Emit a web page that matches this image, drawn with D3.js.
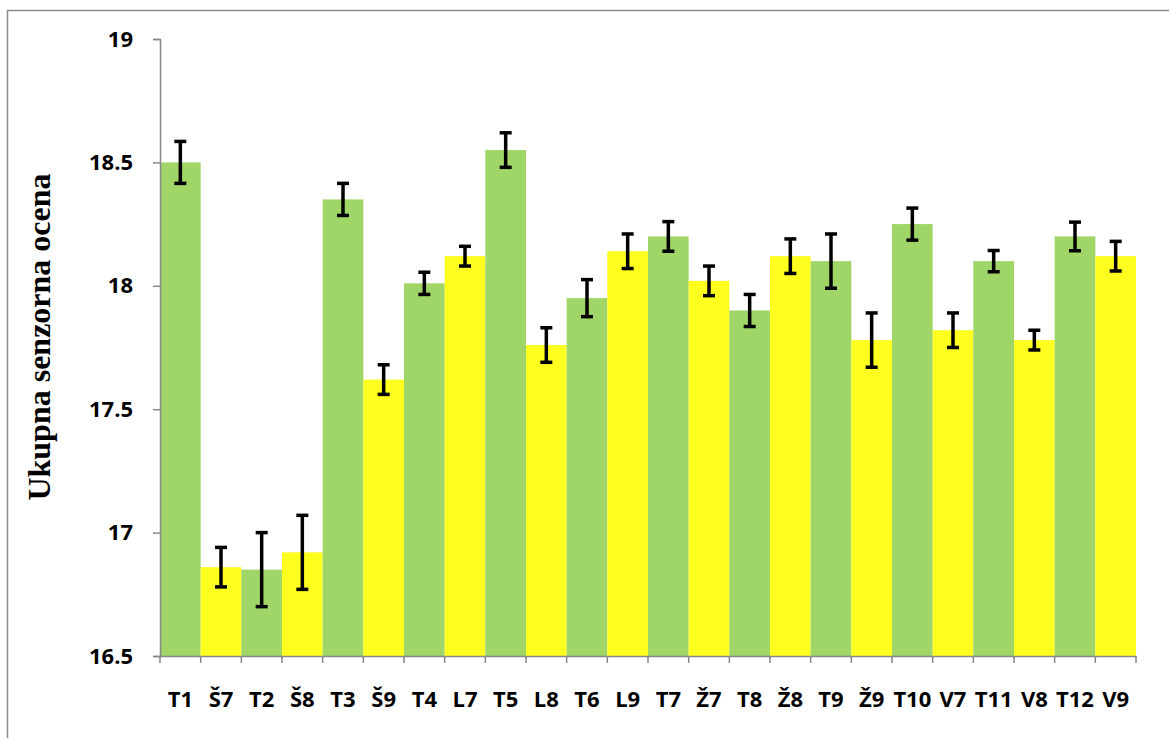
<!DOCTYPE html>
<html>
<head>
<meta charset="utf-8">
<script src="https://cdn.jsdelivr.net/npm/d3@7"></script>
<style>
  body { margin: 0; background: #fff; }
</style>
</head>
<body>
<div id="vis"></div>
<script>
var categories = ['T1', 'Š7', 'T2', 'Š8', 'T3', 'Š9', 'T4', 'L7', 'T5', 'L8', 'T6', 'L9',
                  'T7', 'Ž7', 'T8', 'Ž8', 'T9', 'Ž9', 'T10', 'V7', 'T11', 'V8', 'T12', 'V9'];
var means = [18.50, 16.86, 16.85, 16.92, 18.35, 17.62, 18.01, 18.12, 18.55, 17.76, 17.95, 18.14,
             18.20, 18.02, 17.90, 18.12, 18.10, 17.78, 18.25, 17.82, 18.10, 17.78, 18.20, 18.12];
var errors = [0.085, 0.08, 0.15, 0.15, 0.065, 0.06, 0.045, 0.04, 0.07, 0.07, 0.075, 0.07,
              0.06, 0.06, 0.065, 0.07, 0.11, 0.11, 0.065, 0.07, 0.043, 0.04, 0.058, 0.06];
var yTicks = [16.5, 17, 17.5, 18, 18.5, 19];

var width = 1169;
var height = 738;
var margin = { top: 39, left: 160, right: 33, bottom: 82 };

var svg = d3.select('#vis').append('svg')
  .attr('width', width)
  .attr('height', height);

// chart frame
svg.append('rect')
  .attr('x', 7.5).attr('y', 10.5)
  .attr('width', 1200).attr('height', 800)
  .attr('fill', 'none')
  .attr('stroke', '#8c8c8c')
  .attr('stroke-width', 1.5);

var x = d3.scaleBand()
  .domain(categories)
  .range([margin.left, width - margin.right])
  .padding(0);

var y = d3.scaleLinear()
  .domain([16.5, 19])
  .range([height - margin.bottom, margin.top]);

var data = categories.map(function (c, i) {
  return { name: c, value: means[i], err: errors[i], green: i % 2 === 0 };
});

svg.selectAll('.bar')
  .data(data)
  .enter().append('rect')
  .attr('class', 'bar')
  .attr('x', function (d) { return x(d.name); })
  .attr('y', function (d) { return y(d.value); })
  .attr('width', x.bandwidth())
  .attr('height', function (d) { return y(16.5) - y(d.value); })
  .attr('fill', function (d) { return d.green ? '#a0d568' : '#ffff1f'; });

// error bars
var eb = svg.selectAll('.err')
  .data(data)
  .enter().append('g')
  .attr('class', 'err')
  .attr('stroke', '#000')
  .attr('stroke-width', 3.5);

eb.append('line')
  .attr('x1', function (d) { return x(d.name) + x.bandwidth() / 2; })
  .attr('x2', function (d) { return x(d.name) + x.bandwidth() / 2; })
  .attr('y1', function (d) { return y(d.value + d.err); })
  .attr('y2', function (d) { return y(d.value - d.err); });

[1, -1].forEach(function (s) {
  eb.append('line')
    .attr('x1', function (d) { return x(d.name) + x.bandwidth() / 2 - 6; })
    .attr('x2', function (d) { return x(d.name) + x.bandwidth() / 2 + 6; })
    .attr('y1', function (d) { return y(d.value + s * d.err); })
    .attr('y2', function (d) { return y(d.value + s * d.err); });
});

function styleLabels(g) {
  g.selectAll('text')
    .style('font-family', '"Open Sans", sans-serif')
    .style('font-weight', 'bold')
    .style('font-size', '22px')
    .attr('fill', '#000');
}

// y axis
var yAxis = svg.append('g')
  .attr('transform', 'translate(' + margin.left + ',0)')
  .call(d3.axisLeft(y).tickValues(yTicks).tickSize(7).tickPadding(20).tickFormat(d3.format('')));
yAxis.selectAll('line, path').attr('stroke', '#868686').attr('stroke-width', 1.5);
styleLabels(yAxis);

// x axis with ticks between the bars
var xAxis = svg.append('g')
  .attr('transform', 'translate(0,' + y(16.5) + ')')
  .call(d3.axisBottom(x).tickSize(0).tickPadding(35));
xAxis.select('path').attr('stroke', '#868686').attr('stroke-width', 1.5);
styleLabels(xAxis);
xAxis.selectAll('.sep')
  .data(categories.concat(['end']))
  .enter().append('line')
  .attr('class', 'sep')
  .attr('x1', function (d, i) { return margin.left + i * x.bandwidth(); })
  .attr('x2', function (d, i) { return margin.left + i * x.bandwidth(); })
  .attr('y1', 0).attr('y2', 7)
  .attr('stroke', '#868686').attr('stroke-width', 1.5);

// y title
svg.append('text')
  .attr('transform', 'translate(50,' + 337 + ') rotate(-90)')
  .attr('text-anchor', 'middle')
  .style('font-family', '"Liberation Serif", "Times New Roman", serif')
  .style('font-weight', 'bold')
  .style('font-size', '32px')
  .text('Ukupna senzorna ocena');
</script>
</body>
</html>
